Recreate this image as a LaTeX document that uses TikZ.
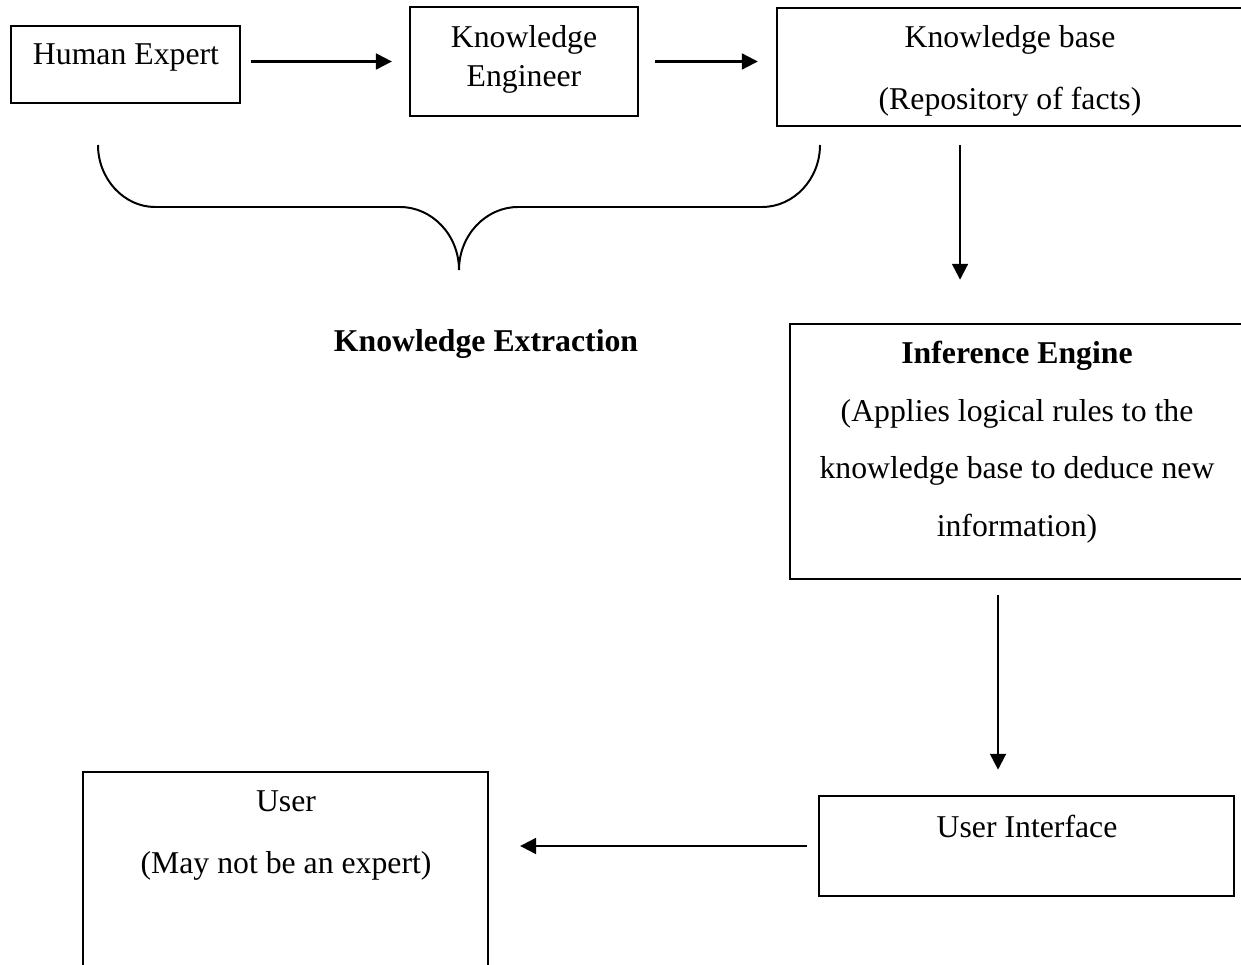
\documentclass[tikz,border=0pt]{standalone}
\usepackage{fontspec}
\setmainfont{Liberation Serif}
\usetikzlibrary{arrows.meta,calc}

\tikzset{
  block/.style={draw, line width=0.9pt, inner sep=0pt},
  txt/.style={font=\fontsize{12}{14.4}\selectfont, align=center, anchor=base, inner sep=0pt},
  leading/.style={font=\fontsize{12}{#1}\selectfont},
  flow/.style={line width=0.8pt, -{Triangle[length=6pt,width=6pt]}}
}

\begin{document}
\begin{tikzpicture}[x=0.378pt, y=-0.378pt]
\useasboundingbox (0,0) rectangle (1241,965);
\clip (0,0) rectangle (1241,965);

% Boxes
\node[block, minimum width=86.6pt, minimum height=29.1pt] (expert) at (125.5,64.5) {};
\node[block, minimum width=86.2pt, minimum height=41.2pt] (engineer) at (524,61.5) {};
\node[block, minimum width=182.6pt, minimum height=44.6pt] (kb) at (1018.5,67) {};
\node[block, minimum width=177.7pt, minimum height=96.4pt] (infer) at (1025,451.5) {};
\node[block, minimum width=156.9pt, minimum height=37.8pt] (ui) at (1026.5,846) {};
\node[block, minimum width=153.1pt, minimum height=86.2pt] (user) at (285.5,886) {};

% Labels (base = baseline of the last line)
\node[txt] (expertlbl) at (126,65) {Human Expert};
\node[txt, leading=15pt] (englbl) at (524,87) {Knowledge\\Engineer};
\node[txt, leading=23.8pt] (kblbl) at (1010,110) {Knowledge base\\(Repository of facts)};
\node[txt, leading=21.7pt] (inflbl) at (1017,536)
  {\textbf{Inference Engine}\\(Applies logical rules to the\\knowledge base to deduce new\\information)};
\node[txt] (uilbl) at (1027,837) {User Interface};
\node[txt, leading=23.1pt] (userlbl) at (286,873) {User\\(May not be an expert)};
\node[txt, font=\fontsize{12}{14.4}\selectfont\bfseries] (extract) at (486,352) {Knowledge Extraction};

% Arrows
\draw[flow, shorten <=3.8pt, shorten >=6.4pt] (engineer.west -| expert.east) -- (engineer.west);
\draw[flow, shorten <=6pt, shorten >=6.8pt] (engineer.east) -- (engineer.east -| kb.west);
\draw[flow, shorten <=6.8pt, shorten >=16.3pt] ([xshift=-22.1pt]kb.south) -- ([xshift=-22.1pt]kb.south |- infer.north);
\draw[flow, shorten <=5.7pt, shorten >=9.5pt] ([xshift=-10.2pt]infer.south) -- ([xshift=-10.2pt]infer.south |- ui.north);
\draw[flow, shorten <=4.2pt, shorten >=11.7pt] (ui.west) -- (ui.west -| user.east);

% Curly bracket under the first three boxes
\draw[line width=0.75pt] (98,145) .. controls (98,179) and (124,207) .. (155,207) -- (400,207)
  .. controls (432,207) and (459,235) .. (459,270)
  .. controls (459,235) and (486,207) .. (518,207) -- (762,207)
  .. controls (794,207) and (820,179) .. (820,145);
\end{tikzpicture}
\end{document}
